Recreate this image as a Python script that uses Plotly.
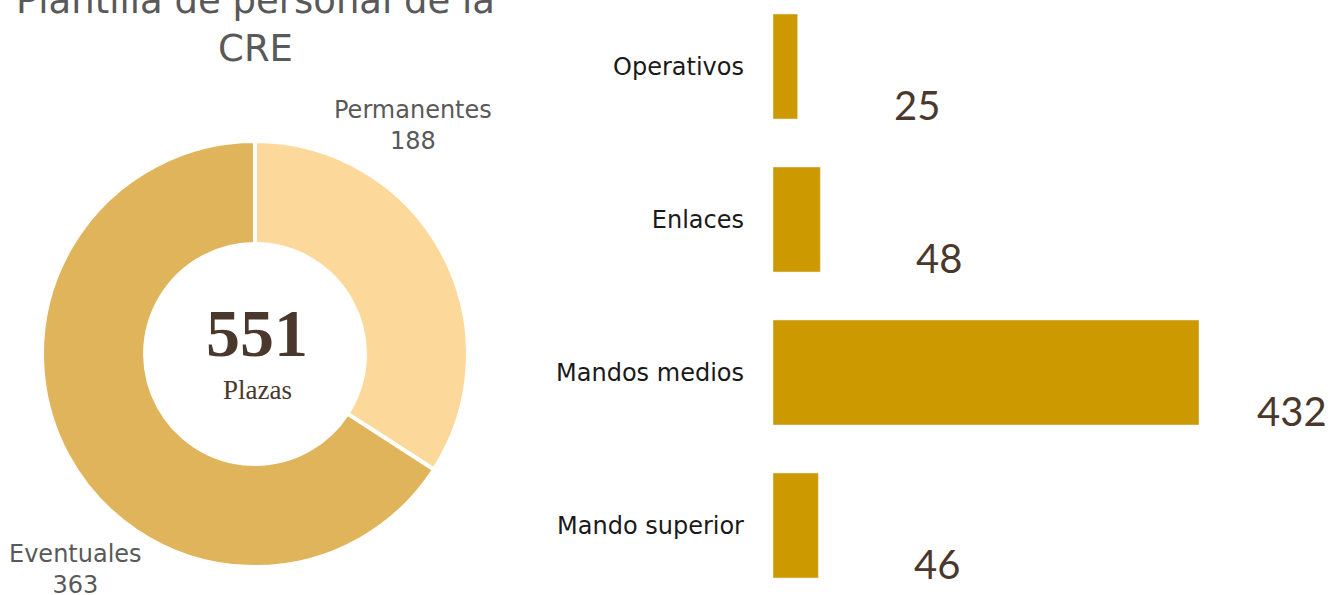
import plotly.graph_objects as go

# ---- data ----
title_text = "Plantilla de personal de la<br>CRE"
pie_labels = ["Permanentes", "Eventuales"]
pie_values = [188, 363]
total_label = "Plazas"

bar_categories = ["Operativos", "Enlaces", "Mandos medios", "Mando superior"]
bar_values = [25, 48, 432, 46]

# ---- styles ----
W, H = 1331, 595
pie_colors = ["#FDD89B", "#E0B45A"]
bar_color = "#CC9900"
brown = "#4A382C"
gray = "#595959"
sans = "DejaVu Sans"

fig = go.Figure()

# donut
cx, cy, r = 255, 354, 213
fig.add_trace(go.Pie(
    labels=pie_labels, values=pie_values, hole=0.516, sort=False,
    direction="clockwise", rotation=0,
    marker=dict(colors=pie_colors, line=dict(color="white", width=4)),
    textinfo="none", hoverinfo="label+value",
    domain=dict(x=[(cx - r) / W, (cx + r) / W], y=[1 - (cy + r) / H, 1 - (cy - r) / H]),
    showlegend=False,
))

# bars
x0_px = 773
px_per_unit = 426 / 432
x_range_max = (W - x0_px) / px_per_unit
fig.add_trace(go.Bar(
    x=bar_values, y=bar_categories, orientation="h",
    marker=dict(color=bar_color), xaxis="x2", yaxis="y2",
    hoverinfo="x+y", showlegend=False,
))

# category band geometry (pixels per category = 153, first center at 66.5 px)
band = 153
top = -66.5 / band
bottom = top + H / band

annotations = []
# title
annotations.append(dict(
    text=title_text, x=255 / W, y=1 - 25 / H, xref="paper", yref="paper",
    xanchor="center", yanchor="middle", showarrow=False,
    font=dict(family=sans, size=37, color=gray), align="center",
))
# pie outside labels
label_pos = [(413, 125), (75, 569)]
for lab, val, (lx, ly) in zip(pie_labels, pie_values, label_pos):
    annotations.append(dict(
        text=f"{lab}<br>{val}", x=lx / W, y=1 - ly / H, xref="paper", yref="paper",
        xanchor="center", yanchor="middle", showarrow=False, align="center",
        font=dict(family=sans, size=24, color=gray),
    ))
# center total
annotations.append(dict(
    text=f"<b>{sum(pie_values)}</b>", x=257 / W, y=1 - 333 / H, xref="paper", yref="paper",
    xanchor="center", yanchor="middle", showarrow=False,
    font=dict(family="Liberation Serif", size=68, color=brown),
))
annotations.append(dict(
    text=total_label, x=257 / W, y=1 - 390 / H, xref="paper", yref="paper",
    xanchor="center", yanchor="middle", showarrow=False,
    font=dict(family="Liberation Serif", size=27, color=brown),
))
# bar value labels
for cat, v in zip(bar_categories, bar_values):
    end_px = x0_px + v * px_per_unit
    label_w = 24 * len(str(v))
    shift = min(94, (W - 4) - label_w - end_px)
    annotations.append(dict(
        text=str(v), x=v, y=cat, xref="x2", yref="y2",
        xanchor="left", yanchor="middle", xshift=shift, yshift=-38,
        showarrow=False, font=dict(family="Lato", size=40, color=brown),
    ))

fig.update_layout(
    width=W, height=H, margin=dict(l=0, r=0, t=0, b=0),
    paper_bgcolor="white", plot_bgcolor="white",
    bargap=1 - 105 / band,
    xaxis2=dict(domain=[x0_px / W, 1], range=[0, x_range_max], visible=False, fixedrange=True),
    yaxis2=dict(domain=[0, 1], range=[bottom, top], anchor="x2",
                showgrid=False, zeroline=False, showline=False, ticks="",
                ticklabelstandoff=28,
                tickfont=dict(family=sans, size=24, color="#1A1A1A"), fixedrange=True),
    annotations=annotations,
)

fig.write_html("out.html", config={"displayModeBar": False},
               post_script="document.body.style.margin='0';")
